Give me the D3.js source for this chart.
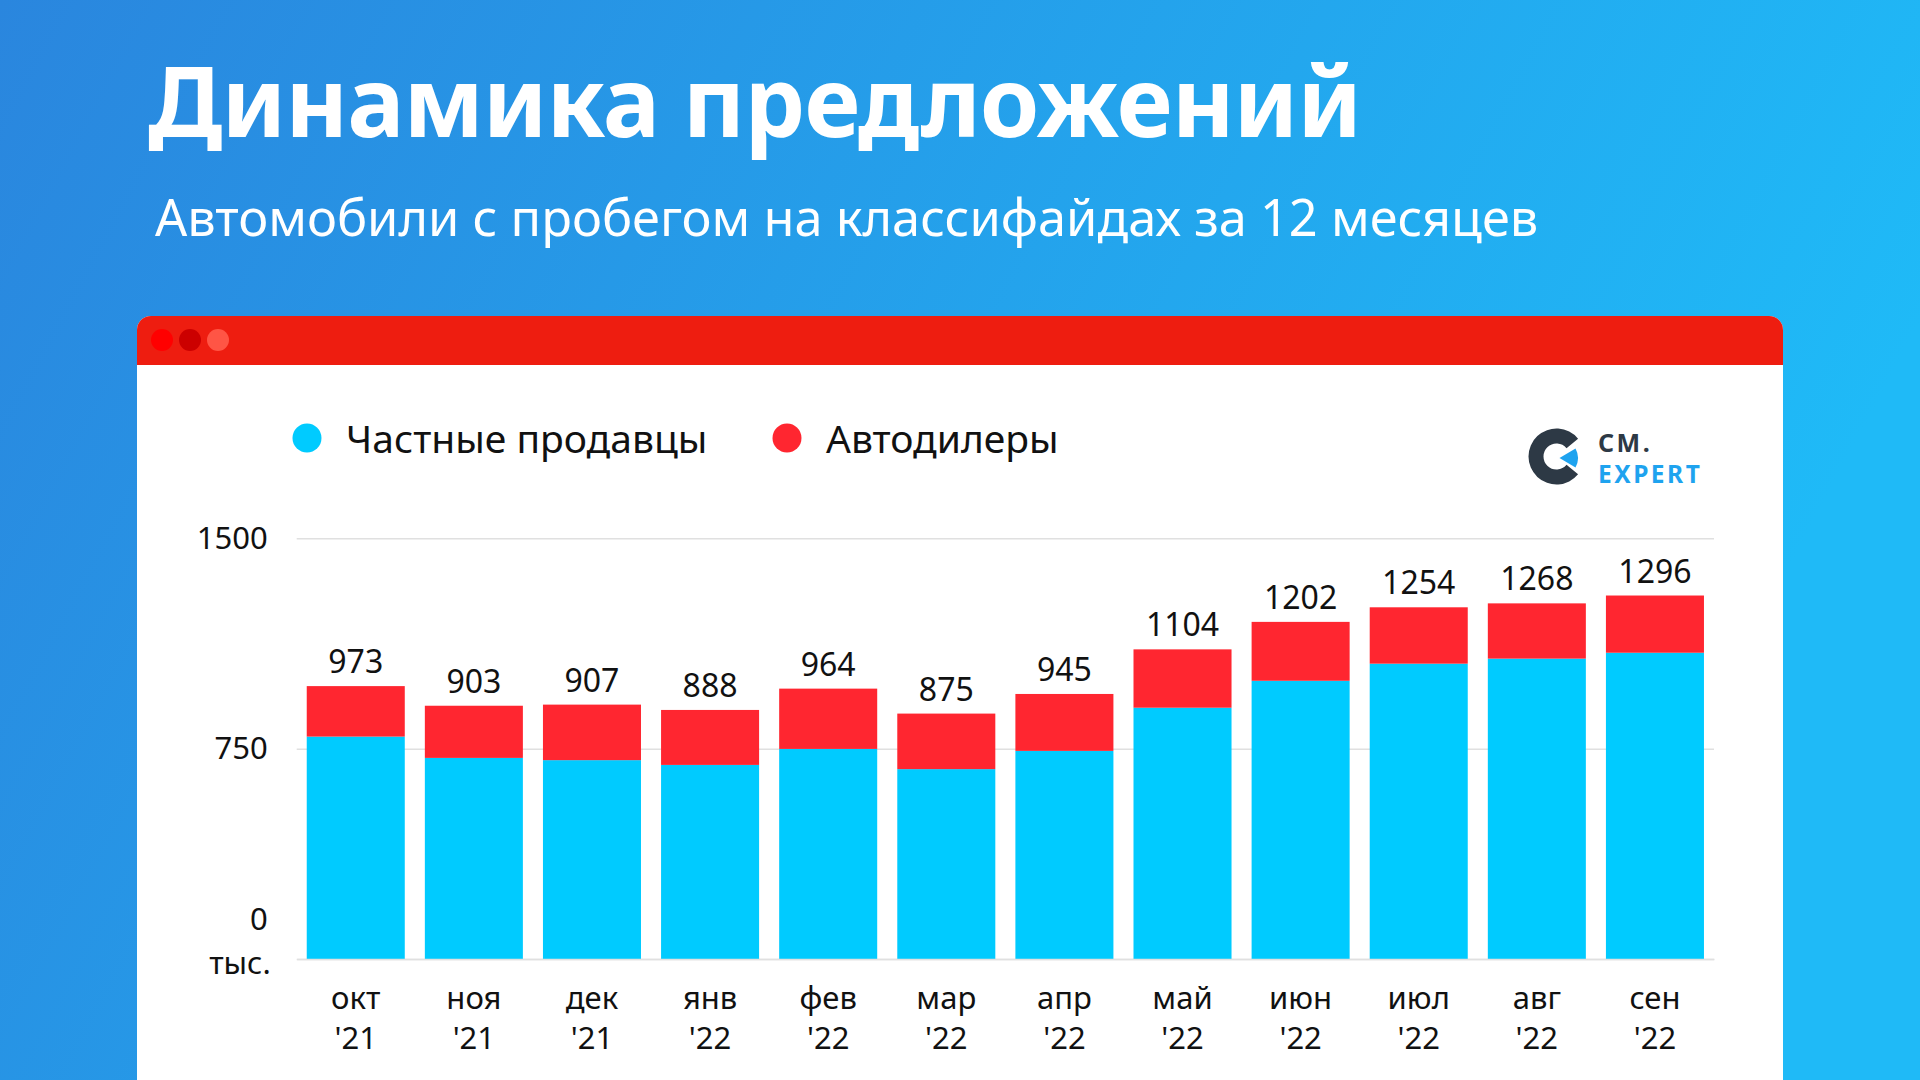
<!DOCTYPE html>
<html>
<head>
<meta charset="utf-8">
<script src="https://cdn.jsdelivr.net/npm/d3@7"></script>
<style>
  html, body { margin: 0; padding: 0; }
  body { width: 1920px; height: 1080px; overflow: hidden; }
  text { font-family: "Noto Sans", "Open Sans", sans-serif; }
</style>
</head>
<body>
<div id="app"></div>
<script>
// data (thousands of listings)
let months = ["окт", "ноя", "дек", "янв", "фев", "мар", "апр", "май", "июн", "июл", "авг", "сен"];
let years = ["'21", "'21", "'21", "'22", "'22", "'22", "'22", "'22", "'22", "'22", "'22", "'22"];
let privateSellers = [793, 717, 709, 692, 749, 677, 742, 896, 992, 1053, 1071, 1092];
let dealers = [180, 186, 198, 196, 215, 198, 203, 208, 210, 201, 197, 204];
let totals = [973, 903, 907, 888, 964, 875, 945, 1104, 1202, 1254, 1268, 1296];
let yTicks = [0, 750, 1500];
let seriesNames = ["Частные продавцы", "Автодилеры"];
let seriesColors = ["#00cbff", "#ff2630"];

let W = 1920, H = 1080;

let svg = d3.select("#app")
  .append("svg")
    .attr("width", W)
    .attr("height", H);

// background gradient
let defs = svg.append("defs");
let grad = defs.append("linearGradient")
    .attr("id", "bg")
    .attr("x1", "0%").attr("y1", "0%")
    .attr("x2", "100%").attr("y2", "30%");
grad.append("stop").attr("offset", "0%").attr("stop-color", "#2a86de");
grad.append("stop").attr("offset", "100%").attr("stop-color", "#1fbaf7");

svg.append("rect")
    .attr("width", W).attr("height", H)
    .attr("fill", "url(#bg)");

// title
svg.append("text")
    .attr("x", 148).attr("y", 137)
    .attr("fill", "#fff")
    .attr("font-size", 96)
    .attr("font-weight", 700)
    .attr("letter-spacing", -1)
    .text("Динамика предложений");

svg.append("text")
    .attr("x", 155).attr("y", 236)
    .attr("fill", "#fff")
    .attr("font-size", 50.5)
    .text("Автомобили с пробегом на классифайдах за 12 месяцев");

// card window
let card = { x: 137, y: 316, w: 1646, header: 49 };
defs.append("clipPath").attr("id", "cardClip")
  .append("rect")
    .attr("x", card.x).attr("y", card.y)
    .attr("width", card.w).attr("height", H - card.y + 20)
    .attr("rx", 14);

let cardG = svg.append("g").attr("clip-path", "url(#cardClip)");
cardG.append("rect")
    .attr("x", card.x).attr("y", card.y)
    .attr("width", card.w).attr("height", H - card.y)
    .attr("fill", "#fff");
cardG.append("rect")
    .attr("x", card.x).attr("y", card.y)
    .attr("width", card.w).attr("height", card.header)
    .attr("fill", "#ee1d10");

let dotColors = ["#ff0000", "#cc0000", "#ff5545"];
cardG.selectAll(".wdot")
  .data(dotColors)
  .enter()
  .append("circle")
    .attr("cx", (d, i) => 162 + i * 28)
    .attr("cy", 340)
    .attr("r", 11)
    .attr("fill", d => d);

// logo
let logo = svg.append("g").attr("transform", "translate(1556.5,456.5)");
let ring = d3.arc()
    .innerRadius(13)
    .outerRadius(28)
    .startAngle(Math.PI * 0.72)
    .endAngle(Math.PI * 2.28);
logo.append("path").attr("d", ring()).attr("fill", "#2d3945");
logo.append("path")
    .attr("d", "M3,1.5 L19,-8 A20,20 0 0,1 19,11 Z")
    .attr("fill", "#1ea3ef");
svg.append("text")
    .attr("x", 1598).attr("y", 452)
    .attr("fill", "#2d3945")
    .attr("font-size", 25).attr("font-weight", 700)
    .attr("letter-spacing", 2.5)
    .text("CM.");
svg.append("text")
    .attr("x", 1598).attr("y", 483)
    .attr("fill", "#1ea3ef")
    .attr("font-size", 24.5).attr("font-weight", 700)
    .attr("letter-spacing", 2.5)
    .text("EXPERT");

// legend
let legendX = [307, 787];
let legend = svg.selectAll(".legend")
  .data(seriesNames)
  .enter()
  .append("g")
    .attr("transform", (d, i) => "translate(" + legendX[i] + ",438)");
legend.append("circle")
    .attr("r", 14.5)
    .attr("fill", (d, i) => seriesColors[i]);
legend.append("text")
    .attr("x", 39).attr("y", 15)
    .attr("font-size", 39)
    .attr("fill", "#111")
    .text(d => d);

// chart area
let plotLeft = 296.7, plotRight = 1714, plotTop = 538.3, plotBottom = 959;

let x = d3.scaleBand()
    .domain(months)
    .range([plotLeft, plotRight])
    .paddingInner(0.17)
    .paddingOuter(0.085);

let y = d3.scaleLinear()
    .domain([0, 1500])
    .range([plotBottom, plotTop]);

// gridlines + y labels
let yAxis = svg.append("g")
    .attr("transform", "translate(" + plotLeft + ",0)")
    .call(d3.axisLeft(y)
      .tickValues(yTicks)
      .tickFormat(d3.format("d"))
      .tickSize(-(plotRight - plotLeft))
      .tickPadding(29));
yAxis.select(".domain").remove();
yAxis.selectAll(".tick line").attr("stroke", "#e0e0e0").attr("stroke-width", 1.5);
yAxis.selectAll(".tick text")
    .attr("font-size", 31)
    .attr("fill", "#111")
    .style("font-family", "'Noto Sans', sans-serif");
yAxis.selectAll(".tick")
  .filter(d => d === 0)
  .select("text")
    .attr("dy", "-0.95em")
    .each(function () {
      d3.select(this.parentNode).append("text")
          .attr("x", -26)
          .attr("dy", "0.3em")
          .attr("y", 5)
          .attr("text-anchor", "end")
          .attr("font-size", 31)
          .attr("fill", "#111")
          .text("тыс.");
    });

// stacked bars
let rows = months.map((m, i) => ({ month: m, private: privateSellers[i], dealers: dealers[i] }));
let stacked = d3.stack().keys(["private", "dealers"])(rows);

svg.append("g")
  .selectAll("g")
  .data(stacked)
  .enter()
  .append("g")
    .attr("fill", (d, i) => seriesColors[i])
  .selectAll("rect")
  .data(d => d)
  .enter()
  .append("rect")
    .attr("x", d => x(d.data.month))
    .attr("y", d => y(d[1]))
    .attr("width", x.bandwidth())
    .attr("height", d => y(d[0]) - y(d[1]));

// total labels
svg.append("g")
  .selectAll("text")
  .data(months)
  .enter()
  .append("text")
    .attr("x", d => x(d) + x.bandwidth() / 2)
    .attr("y", (d, i) => y(totals[i]) - 13)
    .attr("text-anchor", "middle")
    .attr("font-size", 32)
    .attr("fill", "#111")
    .text((d, i) => totals[i]);

// x labels
let xAxis = svg.append("g")
    .attr("transform", "translate(0," + plotBottom + ")")
    .call(d3.axisBottom(x).tickSize(0).tickFormat(""));
xAxis.select(".domain").attr("stroke", "#e0e0e0").attr("stroke-width", 1.5);
xAxis.selectAll(".tick").each(function (d, i) {
  let t = d3.select(this).append("text")
      .attr("text-anchor", "middle")
      .attr("font-size", 31)
      .attr("fill", "#111");
  t.append("tspan").attr("x", 0).attr("y", 50).text(d);
  t.append("tspan").attr("x", 0).attr("y", 90).text(years[i]);
});
</script>
</body>
</html>
